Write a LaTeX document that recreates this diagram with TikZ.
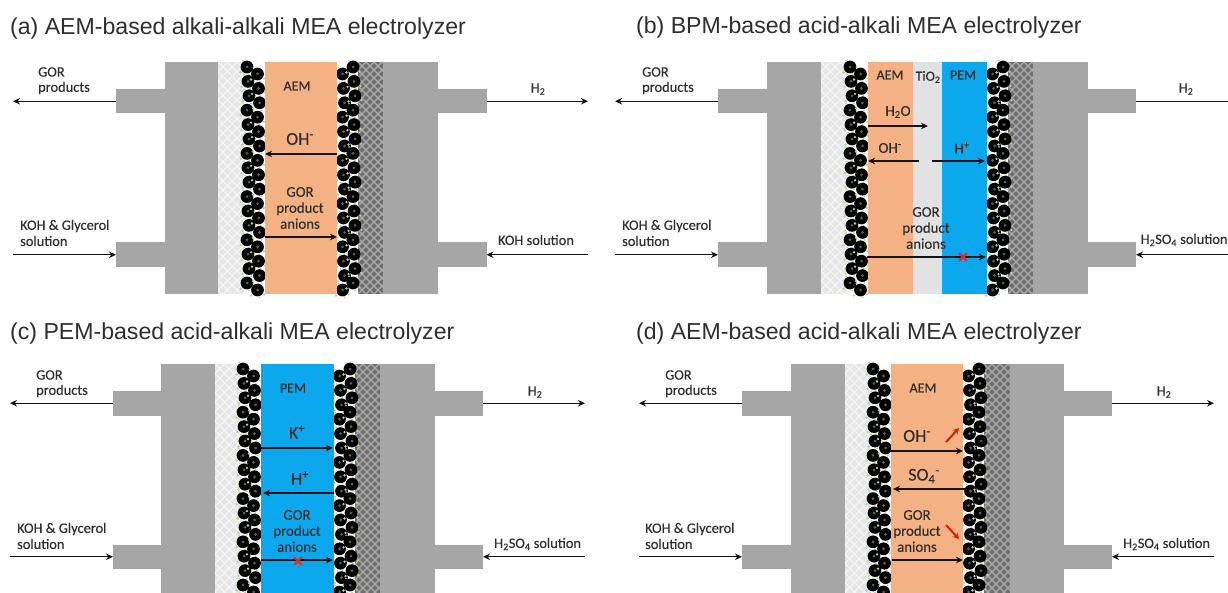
\documentclass[tikz,border=0pt]{standalone}
\usepackage{fontspec}
\setmainfont{Liberation Sans}
\newfontfamily\calfont[FakeBold=0.25]{Carlito}
\usetikzlibrary{arrows.meta}
\definecolor{plategray}{HTML}{A6A6A6}
\definecolor{aemc}{HTML}{F4B183}
\definecolor{pemc}{HTML}{0BA8EE}
\definecolor{tioc}{HTML}{E2E2E2}
\definecolor{txt}{HTML}{2E2E2E}
\definecolor{speck}{HTML}{B5D69A}
\definecolor{gdlbg}{HTML}{E6E6E6}
\definecolor{gdlln}{HTML}{F8F8F8}
\definecolor{darkbg}{HTML}{6E6E6E}
\definecolor{darkln}{HTML}{ABABAB}
\tikzset{
  plate/.style={fill=plategray,draw=none,inner sep=0pt,outer sep=0pt,anchor=north west},
  memb/.style={draw=none,inner sep=0pt,outer sep=0pt,anchor=north west},
  arr/.style={-{Stealth[length=7pt,width=6.5pt]},line width=1.3pt,draw=black!92},
  title/.style={inner sep=0pt,anchor=west,font=\fontsize{23.1}{26}\selectfont,text=txt},
  lab/.style={inner sep=0pt,font=\calfont\fontsize{14.4}{16}\selectfont,text=txt},
  labl/.style={lab,anchor=west},
  mlab/.style={inner sep=0pt,font=\calfont\fontsize{14}{16}\selectfont,text=txt},
  slab/.style={inner sep=0pt,font=\calfont\fontsize{15}{17}\selectfont,text=txt},
  glab/.style={inner sep=0pt,align=center,font=\calfont\fontsize{14.8}{16}\selectfont,text=txt},
  blab/.style={inner sep=0pt,font=\calfont\fontsize{18}{20}\selectfont,text=txt},
  redm/.style={line width=2.2pt,draw=red!70!pink!85!black,line cap=round},
  reda/.style={-{Stealth[length=6pt,width=6.5pt]},line width=2pt,draw=red!70!orange!85!black},
}
\newcommand{\rectnode}[7]{% name style x1 y1 x2 y2 colour
  \pgfmathsetmacro\rw{#5-#3}\pgfmathsetmacro\rh{#6-#4}
  \node[#2,fill=#7,minimum width=\rw pt,minimum height=\rh pt] (#1) at (#3,#4) {};}
\newcommand{\meshfill}[8]{% x1 y1 x2 y2 bg line w step
  \fill[#5] (#1,#2) rectangle (#3,#4);
  \begin{scope}
    \clip (#1,#2) rectangle (#3,#4);
    \foreach \mi in {-36,...,36}{
      \draw[#6,line width=#7pt] (#1+\mi*#8,#2) -- ++(300,300);
      \draw[#6,line width=#7pt] (#1+\mi*#8,#2) -- ++(-300,300);
    }
  \end{scope}}
\newcommand{\beadcol}[3]{% x ystart yend
  \pgfmathtruncatemacro\bn{(#3-#2)/14.4}
  \foreach \bi in {0,...,\bn}{
    \pgfmathsetmacro\yy{#2+14.4*\bi}
    \pgfmathsetmacro\jx{#1+mod(\bi*7,3)-1}
    \fill[speck] (\jx+6.5,\yy+4.5) circle (1.2);
    \fill[speck] (\jx-6.5,\yy+5.5) circle (1.3);
    \fill[speck] (\jx+2,\yy+7.5) circle (1.0);
    \fill[speck] (\jx-4,\yy-6.5) circle (0.9);
    \fill[black] (\jx,\yy) circle (6.4);
    \fill[black!62] (\jx,\yy) circle (1.5);
  }}
\newcommand{\panel}[9]{%
  % name tabL plateL gdlL memL memR darkR plateR tabR; \yT \yB set before
  \pgfmathsetmacro\pta{\yT+27}\pgfmathsetmacro\ptb{\yT+51.5}
  \pgfmathsetmacro\ptc{\yT+180.5}\pgfmathsetmacro\ptd{\yT+205}
  \rectnode{#1-tl}{plate}{#2}{\pta}{#3}{\ptb}{plategray}
  \rectnode{#1-bl}{plate}{#2}{\ptc}{#3}{\ptd}{plategray}
  \rectnode{#1-tr}{plate}{#8}{\pta}{#9}{\ptb}{plategray}
  \rectnode{#1-br}{plate}{#8}{\ptc}{#9}{\ptd}{plategray}
  \rectnode{#1-pl}{plate}{#3}{\yT}{#4}{\yB}{plategray}
  \rectnode{#1-pr}{plate}{#7}{\yT}{#8}{\yB}{plategray}
  \pgfmathsetmacro\pgx{#5-21}\pgfmathsetmacro\pdx{#6+21}
  \meshfill{#4}{\yT}{\pgx}{\yB}{gdlbg}{gdlln}{1.0}{9.5}
  \meshfill{\pdx}{\yT}{#7}{\yB}{darkbg}{darkln}{1.1}{8}
  \pgfmathsetmacro\pba{#5-17}\pgfmathsetmacro\pbb{#5-6.5}
  \pgfmathsetmacro\pbc{#6+6.5}\pgfmathsetmacro\pbd{#6+17}
  \pgfmathsetmacro\pya{\yT+5}\pgfmathsetmacro\pyb{\yT+12}
  \pgfmathsetmacro\pye{\yB+2}
  \beadcol{\pba}{\pya}{\pye}\beadcol{\pbb}{\pyb}{\pye}
  \beadcol{\pbc}{\pyb}{\pye}\beadcol{\pbd}{\pya}{\pye}
}
\newcommand{\marrow}[5][arr]{% style name x1 x2 y
  \coordinate (#2-s) at (#3,#5); \coordinate (#2-e) at (#4,#5);
  \draw[#1] (#2-s) -- (#2-e);}
\newcommand{\redx}[3]{% name x y
  \coordinate (#1) at (#2,#3);
  \draw[redm] ([shift={(-3.5,-3.5)}]#1) -- ([shift={(3.5,3.5)}]#1);
  \draw[redm] ([shift={(-3.5,3.5)}]#1) -- ([shift={(3.5,-3.5)}]#1);}
\def\brs{0}
\newcommand{\extern}[9]{% p  xl1 xl2 yt yb  xrt xrb  gor kohx
  \path (#2,0) |- (#1-tl.west) coordinate[pos=0.5] (#1-go);
  \path (#3,0) |- (#1-bl.west) coordinate[pos=0.5] (#1-ki);
  \path (#6,0) |- (#1-tr.east) coordinate[pos=0.5] (#1-hy);
  \path (#7,0) |- (#1-br.east) coordinate[pos=0.5] (#1-so);
  \draw[arr] (#1-tl.west) -- (#1-go);
  \draw[arr] (#1-ki) -- (#1-bl.west);
  \draw[arr] (#1-tr.east) -- (#1-hy);
  \draw[arr,yshift=\brs pt] (#1-so) -- (#1-br.east);
  \pgfmathsetmacro\ela{#4-29}\pgfmathsetmacro\elb{#4-13}
  \pgfmathsetmacro\elc{#5-29}\pgfmathsetmacro\eld{#5-14}
  \node[labl] (#1-t1) at (#8,\ela) {GOR};
  \node[labl] (#1-t2) at (#8,\elb) {products};
  \node[labl] (#1-t3) at (#9,\elc) {KOH \& Glycerol};
  \node[labl] (#1-t4) at (#9,\eld) {solution};
}
\begin{document}
\begin{tikzpicture}[x=1pt,y=-1pt]
\useasboundingbox (0,0) rectangle (1228,593);
\clip (0,0) rectangle (1228,593);
\fill[white] (0,0) rectangle (1228,593);

% ---------- (a)
\node[title] (ta) at (10,29) {(a) AEM-based alkali-alkali MEA electrolyzer};
\def\yT{62}\def\yB{294}
\panel{a}{116}{165}{218}{265}{337}{383}{438}{486.5}
\rectnode{a-m}{memb}{265}{62}{337}{294}{aemc}
\def\brs{1.7}
\extern{a}{13}{13}{101}{255}{588}{588}{38}{20}
\def\brs{0}
\node[lab] (a-h2) at (538,89) {H\textsubscript{2}};
\node[lab] (a-sol) at (536,240) {KOH solution};
\node[mlab] (a-l1) at (297,86) {AEM};
\node[blab] (a-l2) at (300,139) {OH\textsuperscript{-}};
\node[glab] (a-l3) at (300,208) {GOR\\product\\anions};
\marrow{a-i1}{337}{265}{154}
\marrow{a-i2}{265}{337}{237}

% ---------- (b)
\node[title] (tb) at (636,28) {(b) BPM-based acid-alkali MEA electrolyzer};
\panel{b}{718}{767}{821}{868}{987}{1033}{1088}{1136}
\rectnode{b-m1}{memb}{868}{62}{913}{294}{aemc}
\rectnode{b-m2}{memb}{913}{62}{942}{294}{tioc}
\rectnode{b-m3}{memb}{942}{62}{987}{294}{pemc}
\extern{b}{615}{615}{101}{255}{1240}{1240}{642}{622}
\node[lab] (b-h2) at (1186,89) {H\textsubscript{2}};
\node[labl] (b-sol) at (1140.5,240) {H\textsubscript{2}SO\textsubscript{4} solution};
\node[mlab] (b-l1) at (890,75) {AEM};
\node[mlab] (b-l2) at (928,77) {TiO\textsubscript{2}};
\node[mlab] (b-l3) at (963,75) {PEM};
\node[slab] (b-l4) at (898,112) {H\textsubscript{2}O};
\node[slab] (b-l5) at (890,148) {OH\textsuperscript{-}};
\node[slab] (b-l6) at (962,148) {H\textsuperscript{+}};
\node[glab] (b-l7) at (926,228) {GOR\\product\\anions};
\marrow{b-i1}{868}{928}{126}
\marrow{b-i2}{919}{868}{161}
\marrow{b-i3}{932}{985}{161}
\marrow{b-i4}{867}{986}{257}
\redx{b-x}{963}{257}

% ---------- (c)
\node[title] (tc) at (10,334) {(c) PEM-based acid-alkali MEA electrolyzer};
\def\yT{364}\def\yB{600}
\panel{c}{113}{161}{215}{261}{334}{380}{435}{483}
\rectnode{c-m}{memb}{261}{364}{334}{600}{pemc}
\extern{c}{10}{10}{404}{558}{585}{585}{36}{17}
\node[lab] (c-h2) at (535,392) {H\textsubscript{2}};
\node[labl] (c-sol) at (494,544) {H\textsubscript{2}SO\textsubscript{4} solution};
\node[mlab] (c-l1) at (293,388) {PEM};
\node[blab] (c-l2) at (297,432) {K\textsuperscript{+}};
\node[blab] (c-l3) at (300,478) {H\textsuperscript{+}};
\node[glab] (c-l4) at (297,531) {GOR\\product\\anions};
\marrow{c-i1}{261}{333}{448}
\marrow{c-i2}{334}{263}{493}
\marrow{c-i3}{261}{333}{560}
\redx{c-x}{298}{561}

% ---------- (d)
\node[title] (td) at (636,334) {(d) AEM-based acid-alkali MEA electrolyzer};
\panel{d}{742}{791}{845}{891}{963}{1010}{1064}{1112}
\rectnode{d-m}{memb}{891}{364}{963}{600}{aemc}
\extern{d}{639}{639}{404}{558}{1214}{1214}{665}{645}
\node[lab] (d-h2) at (1164,392) {H\textsubscript{2}};
\node[labl] (d-sol) at (1123,544) {H\textsubscript{2}SO\textsubscript{4} solution};
\node[mlab] (d-l1) at (923,388) {AEM};
\node[blab] (d-l2) at (917,436) {OH\textsuperscript{-}};
\node[blab] (d-l3) at (924,476) {SO\textsubscript{4}\textsuperscript{-}};
\node[glab] (d-l4) at (917,531) {GOR\\product\\anions};
\marrow{d-i1}{890}{963}{451}
\marrow{d-i2}{965}{893}{489}
\marrow{d-i3}{892}{963}{560}
\coordinate (d-r1s) at (946,442); \coordinate (d-r1e) at (959,428);
\draw[reda] (d-r1s) -- (d-r1e);
\coordinate (d-r2s) at (946,525); \coordinate (d-r2e) at (959,539);
\draw[reda] (d-r2s) -- (d-r2e);
\end{tikzpicture}
\end{document}
